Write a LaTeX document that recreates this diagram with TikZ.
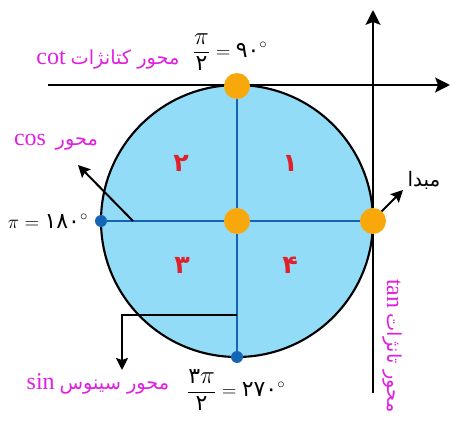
\documentclass[tikz,border=0pt]{standalone}
\usepackage{amsmath}
\usepackage{graphicx}
\usepackage{fontspec}
\setmainfont{Liberation Serif}
\newfontfamily\arabicfont[Script=Arabic]{DejaVu Sans}
\newfontfamily\digitfont[Script=Arabic,Scale=1.1]{DejaVu Sans}
\TeXXeTstate=1
\usetikzlibrary{arrows.meta}
\definecolor{diskblue}{HTML}{93DCF8}
\definecolor{lineblue}{HTML}{1565B5}
\definecolor{dotorange}{HTML}{F8A80A}
\definecolor{labelpink}{HTML}{E020E0}
\definecolor{quadred}{HTML}{E0202A}
\newcommand{\fa}[1]{\mbox{\digitfont #1}}
\newcommand{\bigpi}{\scalebox{1.3}{$\pi$}}
\newcommand{\latinword}[1]{{\fontsize{18}{20}\selectfont #1}}
\tikzset{
  axisline/.style={line width=2pt,-{Stealth[length=11pt,width=11pt,inset=2pt]}},
  pointer/.style={line width=1.5pt,-{Stealth[length=9pt,width=9pt,inset=1.5pt]}},
  diam/.style={lineblue,line width=1.5pt},
  bigdot/.style={circle,fill=dotorange,inner sep=0pt,minimum size=19.5pt},
  smalldot/.style={circle,fill=lineblue,inner sep=0pt,minimum size=9pt},
  axislbl/.style={labelpink,font=\fontsize{14.5}{16}\selectfont,inner sep=0pt},
  anglelbl/.style={font=\fontsize{15}{18}\selectfont,inner sep=0pt},
  quadlbl/.style={quadred,font=\arabicfont\bfseries\fontsize{19}{21}\selectfont,inner sep=0pt}
}
\begin{document}
\begin{tikzpicture}[x=0.75pt,y=-0.75pt]
    \useasboundingbox (0,0) rectangle (451,421);
    \coordinate (O) at (237,221);
    \coordinate (P0) at (373,221);
    \coordinate (P90) at (237,86);
    \coordinate (P180) at (101,221);
    \coordinate (P270) at (237,357);
    \filldraw[fill=diskblue,draw=black,line width=1.6pt] (O) circle (136);
    % axes of cot and tan
    \coordinate (cotS) at (48,85);
    \coordinate (cotE) at (450,85);
    \coordinate (tanS) at (373,393);
    \coordinate (tanE) at (373,10);
    \draw[axisline] (cotS) -- (cotE);
    \draw[axisline] (tanS) -- (tanE);
    \draw[diam] (P180) -- (P0);
    \draw[diam] (P90) -- (P270);
    % pointers
    \coordinate (cosS) at (133,221);
    \coordinate (cosE) at (78,165);
    \draw[pointer] (cosS) -- (cosE);
    \coordinate (startS) at (381,212);
    \coordinate (startE) at (403,190);
    \draw[pointer] (startS) -- (startE);
    \coordinate (sinS) at (237,315);
    \coordinate (sinE) at (122,370);
    \draw[pointer] (sinS) -| (sinE);
    % points on the circle
    \node[bigdot] (d0) at (P0) {};
    \node[bigdot] (d90) at (P90) {};
    \node[bigdot] (dO) at (O) {};
    \node[smalldot] (d180) at (P180) {};
    \node[smalldot] (d270) at (P270) {};
    % quarters
    \node[quadlbl] (q1) at (290,163) {۱};
    \node[quadlbl] (q2) at (181,163) {۲};
    \node[quadlbl] (q3) at (182,265) {۳};
    \node[quadlbl] (q4) at (290,265) {۴};
    % labels
    \node[axislbl] (cotlbl) at (108,60) {\latinword{cot} {\arabicfont\beginR محور کتانژات\endR}};
    \node[axislbl] (coslbl) at (56,142) {\latinword{cos} \ {\arabicfont\beginR محور\endR}};
    \node[axislbl] (sinlbl) at (98,384) {\latinword{sin} {\arabicfont\beginR محور سینوس\endR}};
    \node[axislbl,rotate=-90] (tanlbl) at (392,346) {\latinword{tan} {\arabicfont\beginR محور تانژات\endR}};
    \node[anglelbl] (startlbl) at (424,180) {\arabicfont\beginR مبدا\endR};
    \node[anglelbl] (a90) at (230,52) {$\dfrac{\bigpi}{\fa{۲}}=\fa{۹۰}^\circ$};
    \node[anglelbl] (a180) at (48,221) {$\pi=\fa{۱۸۰}^\circ$};
    \node[anglelbl] (a270) at (236,390) {$\dfrac{\fa{۳}\bigpi}{\fa{۲}}=\fa{۲۷۰}^\circ$};
\end{tikzpicture}
\end{document}
